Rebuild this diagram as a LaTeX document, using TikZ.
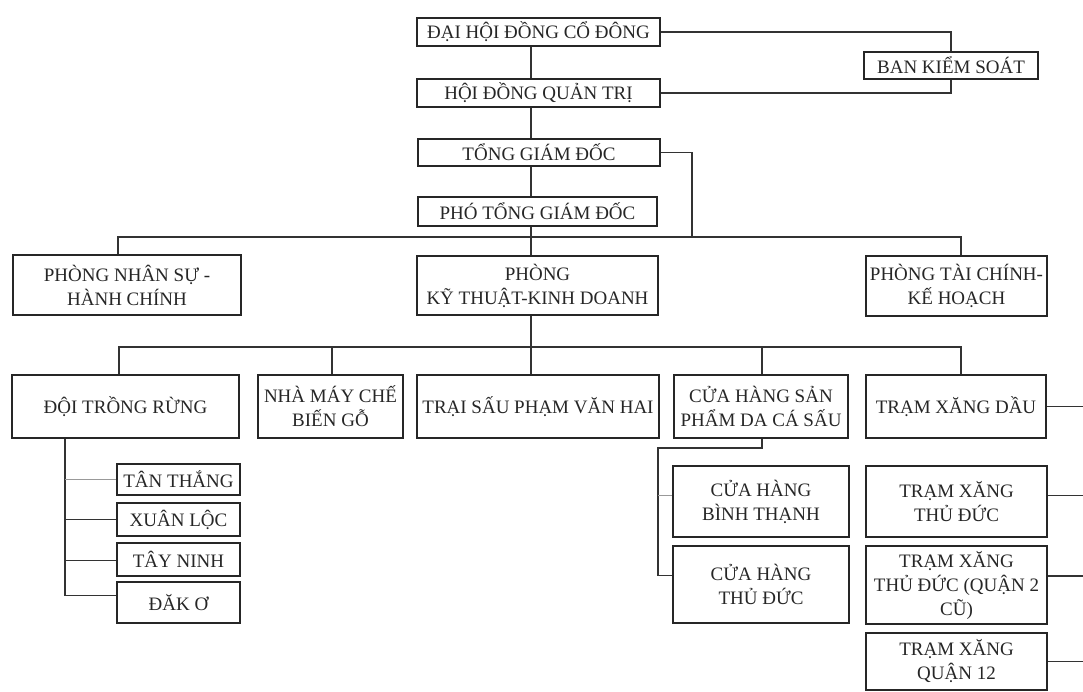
\documentclass[tikz,border=0pt]{standalone}
\usepackage{fontspec}
\setmainfont{Liberation Serif}
\newcommand\obox[6]{%
  \node[box, minimum width={(#3-#2)*1pt}, minimum height={(#5-#4)*1pt}] (#1) at ({(#2+#3)/2},{(#4+#5)/2}) {#6};}
\begin{document}
\begin{tikzpicture}[x=1pt,y=-1pt,
  box/.style={draw=black!85, line width=1.6pt, inner sep=0pt, align=center,
    font=\fontsize{19}{24}\selectfont, text=black!85},
  conn/.style={draw=black!80, line width=1.3pt},
  faint/.style={draw=black!40, line width=1.2pt}]
\useasboundingbox (0,0) rectangle (1083,691);
% top levels
\obox{dh}{417}{660}{18}{46}{ĐẠI HỘI ĐỒNG CỔ ĐÔNG}
\obox{bks}{864}{1038}{52}{79}{BAN KIỂM SOÁT}
\obox{hd}{417}{660}{79}{107}{HỘI ĐỒNG QUẢN TRỊ}
\obox{tg}{418}{660}{139}{166}{TỔNG GIÁM ĐỐC}
\obox{ptg}{418}{657}{197}{226}{PHÓ TỔNG GIÁM ĐỐC}
% departments
\obox{pns}{13}{241}{255}{315}{PHÒNG NHÂN SỰ -\\HÀNH CHÍNH}
\obox{pkt}{417}{658}{256}{315}{PHÒNG\\KỸ THUẬT-KINH DOANH}
\obox{ptc}{866}{1047}{256}{316}{PHÒNG TÀI CHÍNH-\\KẾ HOẠCH}
% units
\obox{dtr}{12}{239}{375}{438}{ĐỘI TRỒNG RỪNG}
\obox{nm}{258}{403}{375}{438}{NHÀ MÁY CHẾ\\BIẾN GỖ}
\obox{ts}{417}{659}{375}{438}{TRẠI SẤU PHẠM VĂN HAI}
\obox{ch}{674}{848}{375}{438}{CỬA HÀNG SẢN\\PHẨM DA CÁ SẤU}
\obox{tx}{866}{1046}{375}{438}{TRẠM XĂNG DẦU}
% forest teams
\obox{tt}{117}{240}{464}{495}{TÂN THẮNG}
\obox{xl}{117}{240}{503}{536}{XUÂN LỘC}
\obox{tn}{117}{240}{543}{576}{TÂY NINH}
\obox{dk}{117}{240}{582}{623}{ĐĂK Ơ}
% shops
\obox{cbt}{673}{849}{466}{537}{CỬA HÀNG\\BÌNH THẠNH}
\obox{ctd}{673}{849}{546}{623}{CỬA HÀNG\\THỦ ĐỨC}
% stations
\obox{xtd}{866}{1047}{466}{537}{TRẠM XĂNG\\THỦ ĐỨC}
\obox{xq2}{866}{1047}{546}{624}{TRẠM XĂNG\\THỦ ĐỨC (QUẬN 2\\CŨ)}
\obox{xq12}{866}{1047}{633}{690}{TRẠM XĂNG\\QUẬN 12}
% helper coordinates
\coordinate (sp) at (531,0);
\coordinate (tgr) at (692,237);
\coordinate (b1l) at (118,237);
\coordinate (b1r) at (961,237);
\coordinate (b2l) at (119,347);
\coordinate (b2r) at (961,347);
\coordinate (b2n) at (332,347);
\coordinate (b2c) at (762,347);
\coordinate (dv) at (65,0);
\coordinate (chd) at (762,448);
\coordinate (cv) at (658,448);
\coordinate (re) at (1083,0);
% top connectors
\draw[conn] (dh.south -| sp) -- (hd.north -| sp);
\draw[conn] (hd.south -| sp) -- (tg.north -| sp);
\draw[conn] (tg.south -| sp) -- (ptg.north -| sp);
\draw[conn] (dh.east) -| (bks.north);
\draw[conn] (hd.east) -| (bks.south);
\draw[conn] (tg.east) -| (tgr);
% bus 1
\draw[conn] (b1l |- pns.north) -- (b1l) -- (b1r) -- (b1r |- ptc.north);
\draw[conn] (ptg.south -| sp) -- (pkt.north -| sp);
% bus 2
\draw[conn] (pkt.south -| sp) -- (ts.north -| sp);
\draw[conn] (b2l |- dtr.north) -- (b2l) -- (b2r) -- (b2r |- tx.north);
\draw[conn] (b2n) -- (b2n |- nm.north);
\draw[conn] (b2c) -- (b2c |- ch.north);
% forest teams
\draw[conn] (dtr.south -| dv) |- ([yshift=7pt]dk.west);
\draw[faint] (tt.west -| dv) -- (tt.west);
\draw[conn] (xl.west -| dv) -- (xl.west);
\draw[conn] ([yshift=-1pt]tn.west -| dv) -- ([yshift=-1pt]tn.west);
% shops
\draw[conn] (ch.south -| chd) -- (chd) -- (cv) |- ([yshift=9pt]ctd.west);
\draw[faint] ([yshift=6pt]cbt.west -| cv) -- ([yshift=6pt]cbt.west);
% stations stubs
\draw[conn] (tx.east) -- (tx.east -| re);
\draw[conn] ([yshift=6pt]xtd.east) -- ([yshift=6pt]xtd.east -| re);
\draw[conn] ([yshift=9pt]xq2.east) -- ([yshift=9pt]xq2.east -| re);
\draw[conn] (xq12.east) -- (xq12.east -| re);
\end{tikzpicture}
\end{document}
